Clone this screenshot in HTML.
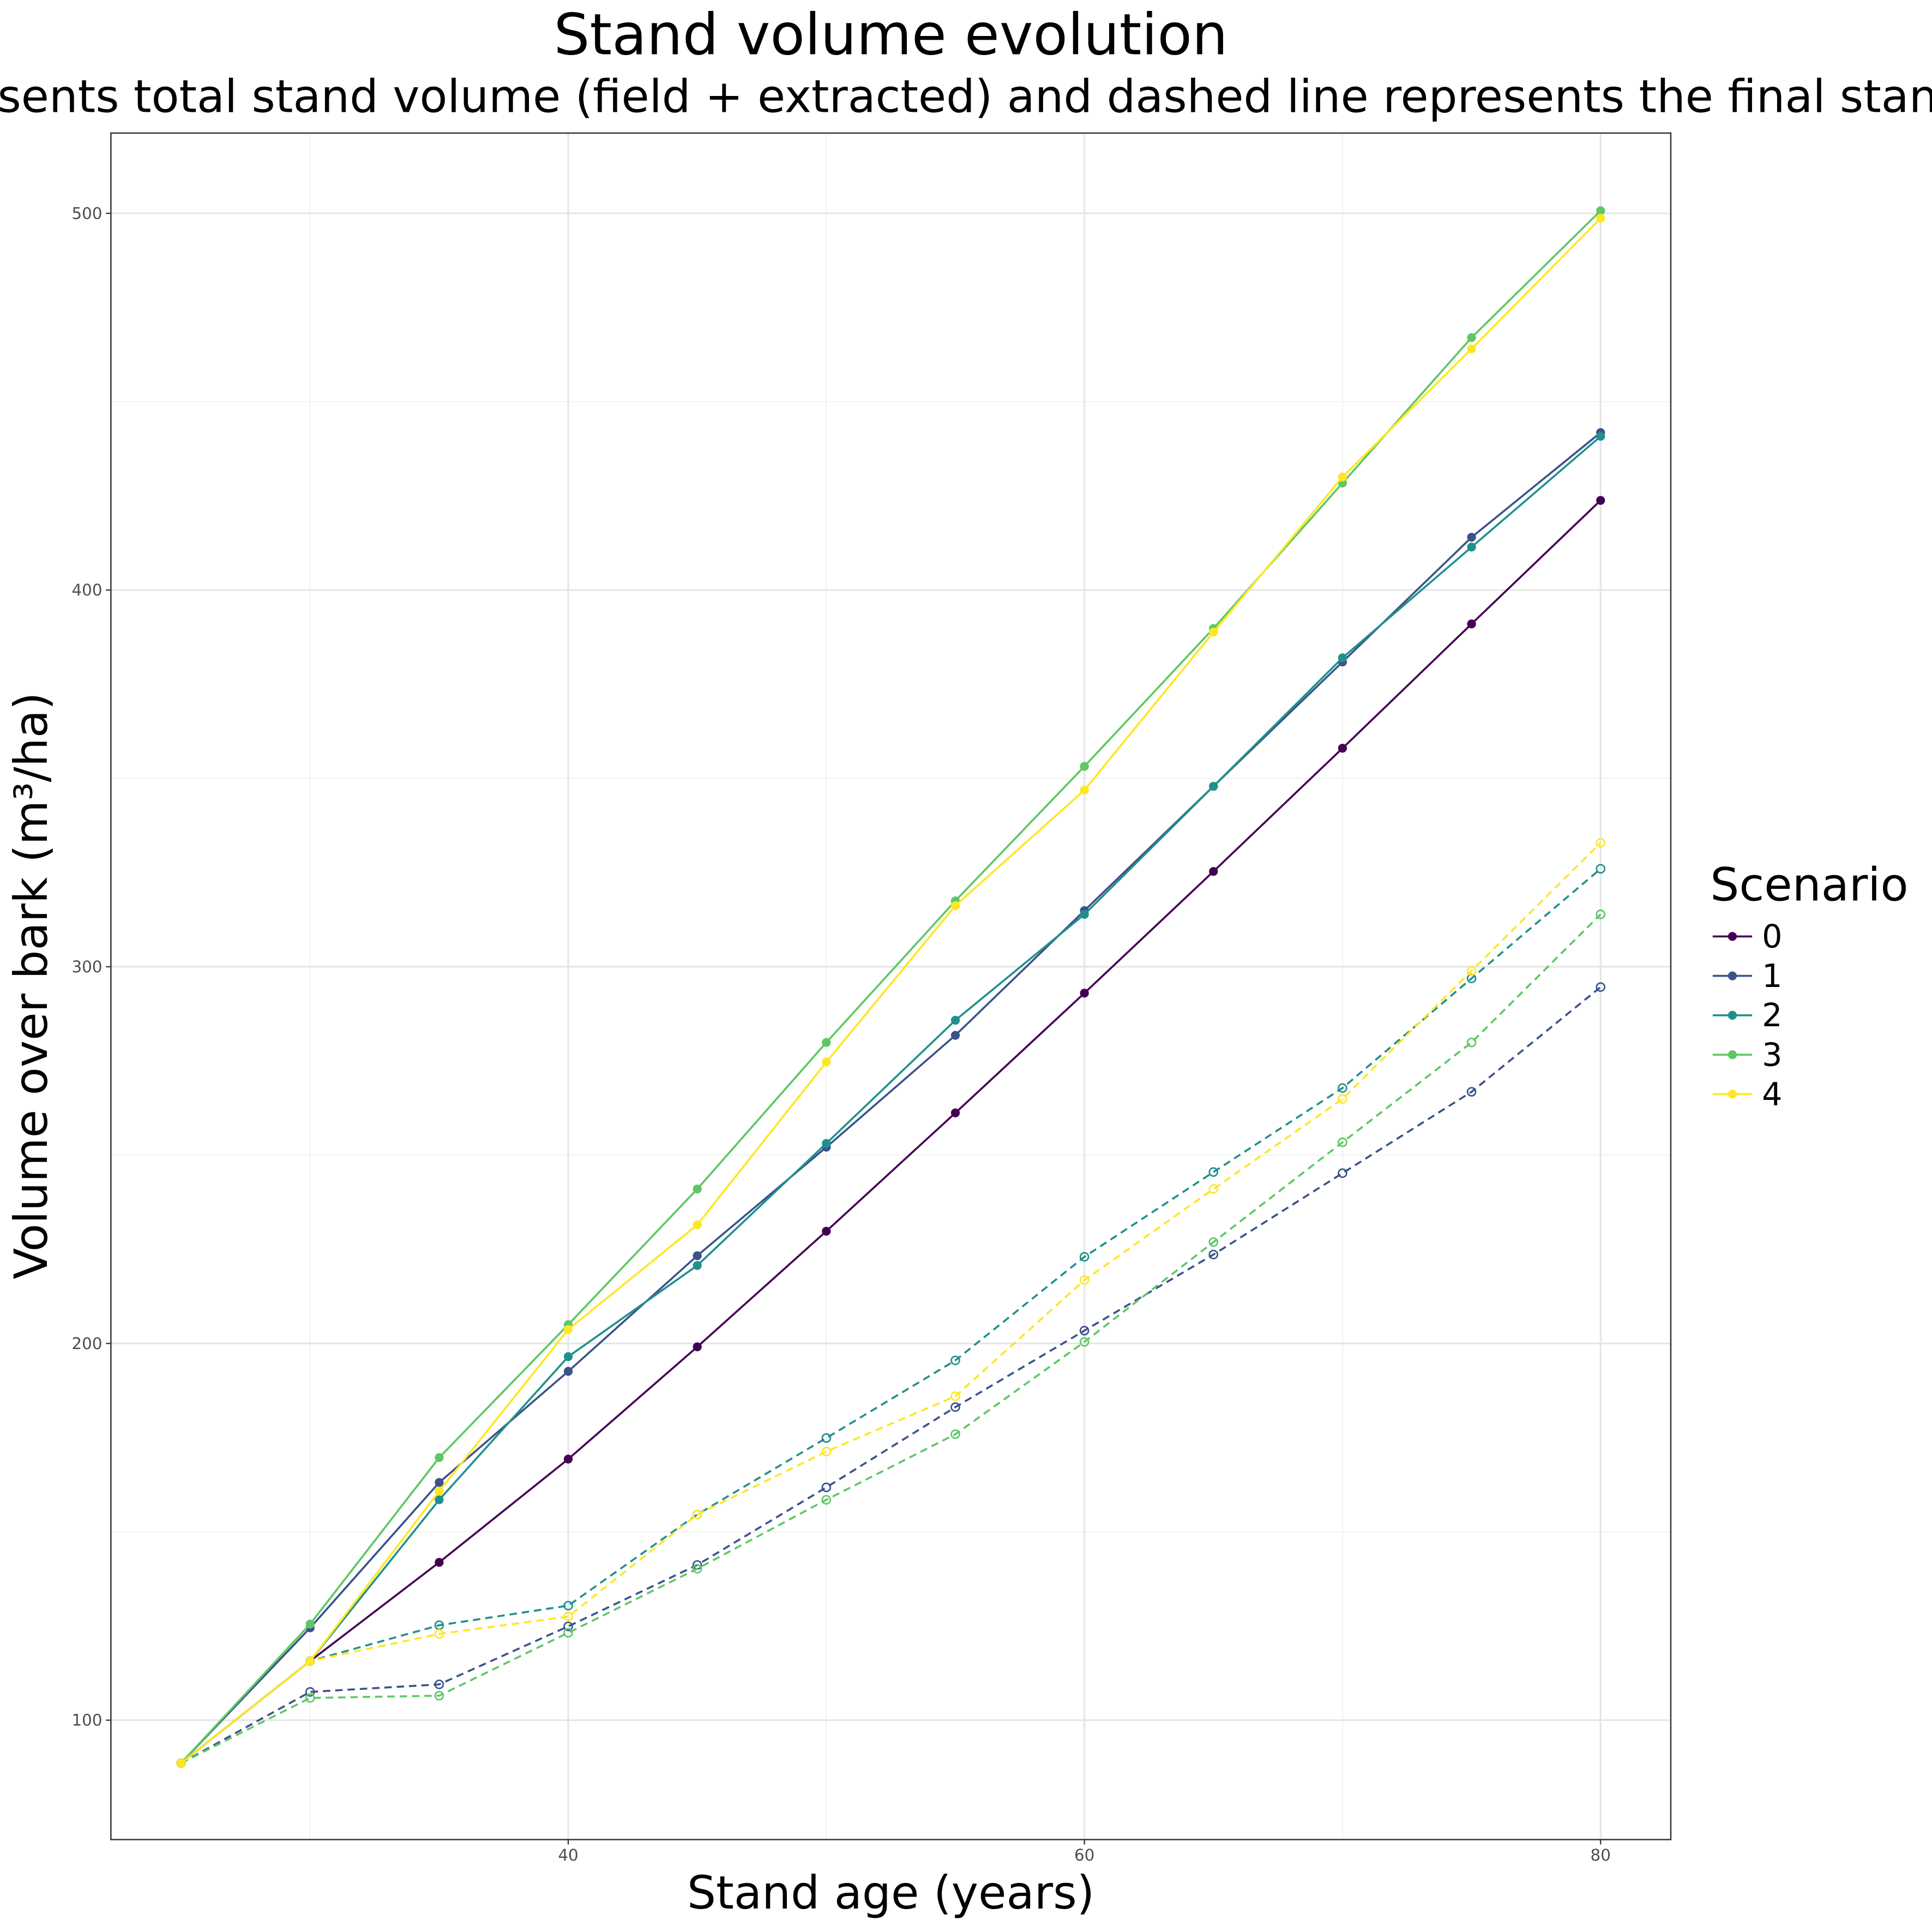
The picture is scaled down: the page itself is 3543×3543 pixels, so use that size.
<!DOCTYPE html>
<html><head><meta charset="utf-8"><style>html,body{margin:0;padding:0;background:#fff}svg{display:block}text{font-family:"DejaVu Sans","Liberation Sans",sans-serif}</style></head>
<body>
<svg id="chart" width="3543" height="3543" viewBox="0 0 1568 1568" xmlns="http://www.w3.org/2000/svg">
<rect x="0" y="0" width="1568" height="1568" fill="#fff"/>
<text x="723" y="44" font-size="46" text-anchor="middle">Stand volume evolution</text>
<text x="-2" y="91" font-size="36.8" text-anchor="end">Solid line repre</text>
<text x="-2" y="91" font-size="36.8">sents total stand volume (field + extracted) and dashed line represents the final stand volume</text>
<g id="plot"></g>
<text x="723" y="1549" font-size="37" text-anchor="middle">Stand age (years)</text>
<text transform="translate(38,800) rotate(-90)" font-size="37" text-anchor="middle">Volume over bark (m³/ha)</text>
<g id="legend"></g>
</svg>
<script>
const ages = [25,30,35,40,45,50,55,60,65,70,75,80];
const scenarios = ["0","1","2","3","4"];
const colors = ["#440154","#3B528B","#21908C","#5DC863","#FDE725"];
const total0 = [88.6,115.7,141.9,169.3,199.1,229.8,261.2,293,325.3,358,391,423.8];
const total1 = [88.6,124.5,163.1,192.6,223.3,252.1,281.8,314.9,347.9,380.9,414,441.8];
const total2 = [88.6,115.7,158.5,196.5,220.7,253.1,285.8,313.9,347.9,382,411.4,440.8];
const total3 = [88.6,125.5,169.7,205,241,279.9,317.5,353.2,389.8,428.4,467,500.7];
const total4 = [88.6,115.7,160.8,203.7,231.5,274.7,316.2,346.9,388.8,430,464,498.7];
const final1 = [88.6,107.5,109.5,124.9,141.2,161.8,183.1,203.4,223.6,245.2,266.8,294.6];
const final2 = [88.6,115.7,125.2,130.4,154.6,174.9,195.5,223,245.5,267.8,296.9,326];
const final3 = [88.6,105.9,106.5,123.2,140.2,158.5,175.9,200.4,226.9,253.4,279.9,313.9];
const final4 = [88.6,115.7,122.9,127.5,154.6,171.3,186,216.8,241,264.9,298.9,332.9];
const yTicks = [100,200,300,400,500];
const xTicks = [40,60,80];

const NS="http://www.w3.org/2000/svg";
const L=90,R=1356,T=108,B=1493;
const xMin=22.28,xMax=82.72,yMin=68.3,yMax=521.3;
const sx=v=>L+(v-xMin)/(xMax-xMin)*(R-L);
const sy=v=>B-(v-yMin)/(yMax-yMin)*(B-T);
const plot=document.getElementById('plot');
function mk(tag,attrs,parent){const e=document.createElementNS(NS,tag);for(const k in attrs)e.setAttribute(k,attrs[k]);(parent||plot).appendChild(e);return e;}

for(let i=0;i<yTicks.length+1;i++){const v=yTicks[0]-50+i*100;if(v<yMin||v>yMax)continue;
 const g=mk('line',{x1:L,x2:R,y1:sy(v),y2:sy(v),stroke:'#f0f0f0','stroke-width':0.8});
 
 }
for(let i=0;i<xTicks.length+1;i++){const v=xTicks[0]-10+i*20;if(v<xMin||v>xMax)continue;
 const g=mk('line',{x1:sx(v),x2:sx(v),y1:T,y2:B,stroke:'#f0f0f0','stroke-width':0.8});
 
 }
yTicks.forEach(v=>{
 const g=mk('line',{x1:L,x2:R,y1:sy(v),y2:sy(v),stroke:'#e6e6e6','stroke-width':1.4});
 
 
 const tk=mk('line',{x1:L-4,x2:L,y1:sy(v),y2:sy(v),stroke:'#333','stroke-width':1});
 
 
 const t=mk('text',{x:L-7,y:sy(v)+4.5,'font-size':13,'text-anchor':'end',fill:'#4d4d4d'});
 t.textContent=v;
 
 
});
xTicks.forEach(v=>{
 const g=mk('line',{x1:sx(v),x2:sx(v),y1:T,y2:B,stroke:'#e6e6e6','stroke-width':1.4});
 
 
 const tk=mk('line',{x1:sx(v),x2:sx(v),y1:B,y2:B+4,stroke:'#333','stroke-width':1});
 
 
 const t=mk('text',{x:sx(v),y:B+17,'font-size':13,'text-anchor':'middle',fill:'#4d4d4d'});
 t.textContent=v;
 
 
});

const totals=[total0,total1,total2,total3,total4];
const finals=[null,final1,final2,final3,final4];
function series(vals,color,dashed,name){
 const pts=vals.map((v,i)=>sx(ages[i])+','+sy(v)).join(' ');
 const pl=mk('polyline',{points:pts,fill:'none',stroke:color,'stroke-width':1.6});
 if(dashed)pl.setAttribute('stroke-dasharray','6,4');
 
 
 vals.forEach((v,i)=>{
  const c=mk('circle',{cx:sx(ages[i]),cy:sy(v),r:dashed?3.3:3.6,fill:dashed?'none':color,stroke:color,'stroke-width':dashed?1.2:0});
  
  
 });
}
finals.forEach((f,i)=>{if(f)series(f,colors[i],true,'final-scenario-'+scenarios[i]);});
totals.forEach((t,i)=>series(t,colors[i],false,'total-scenario-'+scenarios[i]));

const fr=mk('rect',{x:L,y:T,width:R-L,height:B-T,fill:'none',stroke:'#333','stroke-width':1.1});



const lg=document.getElementById('legend');
const lt=mk('text',{x:1388,y:731,'font-size':37},lg);
lt.textContent='Scenario';


scenarios.forEach((s,i)=>{
 const y=760+i*32;
 const g=mk('g',{},lg);
 
 
 mk('line',{x1:1390,x2:1422,y1:y,y2:y,stroke:colors[i],'stroke-width':1.6},g);
 mk('circle',{cx:1406,cy:y,r:3.6,fill:colors[i]},g);
 const t=mk('text',{x:1430,y:y+9,'font-size':26},g);
 t.textContent=s;
});
</script>
</body></html>
